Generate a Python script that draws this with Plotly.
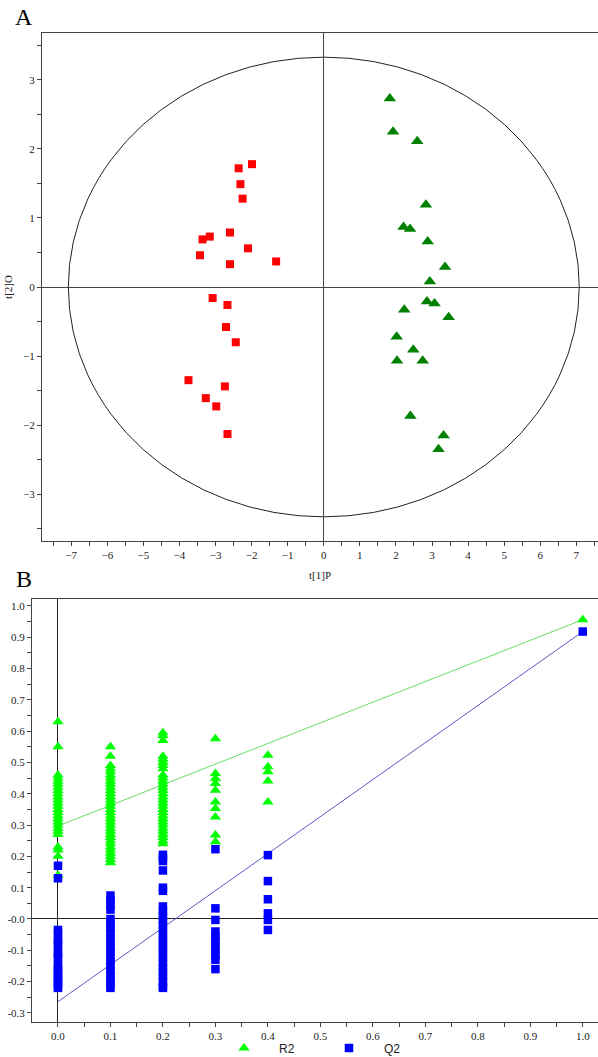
import plotly.graph_objects as go

# ---------------- Panel A: OPLS-DA score plot ----------------
group1_t1 = [-2.36, -1.99, -2.31, -2.25, -3.36, -3.16, -2.60, -2.10, -3.43, -2.60,
             -1.32, -3.08, -2.67, -2.71, -2.44, -3.75, -2.74, -3.27, -2.98, -2.67]
group1_t2 = [1.72, 1.78, 1.49, 1.28, 0.69, 0.73, 0.79, 0.56, 0.46, 0.33,
             0.37, -0.16, -0.26, -0.58, -0.80, -1.35, -1.44, -1.61, -1.73, -2.13]
group2_t1 = [1.83, 1.92, 2.59, 2.83, 2.21, 2.39, 2.88, 3.36, 2.94, 2.86,
             3.07, 2.23, 3.46, 2.02, 2.48, 2.03, 2.74, 2.40, 3.32, 3.18]
group2_t2 = [2.73, 2.25, 2.11, 1.19, 0.87, 0.84, 0.66, 0.29, 0.08, -0.21,
             -0.24, -0.33, -0.44, -0.72, -0.91, -1.07, -1.07, -1.87, -2.15, -2.35]
ellipse_rx = 7.08
ellipse_ry = 3.33
a_xticks = list(range(-7, 8))
a_yticks = [-3, -2, -1, 0, 1, 2, 3]

# ---------------- Panel B: permutation test ----------------
r2_x00 = [0.63, 0.55, 0.46, 0.45, 0.44, 0.43, 0.42, 0.41, 0.40, 0.39, 0.38, 0.37, 0.36,
          0.35, 0.34, 0.33, 0.32, 0.31, 0.30, 0.29, 0.28, 0.27, 0.23, 0.22, 0.20, 0.14]
r2_x01 = [0.55, 0.52, 0.49, 0.48, 0.47, 0.46, 0.45, 0.44, 0.43, 0.42, 0.41, 0.40, 0.39,
          0.38, 0.37, 0.36, 0.35, 0.34, 0.33, 0.32, 0.31, 0.30, 0.29, 0.28, 0.27, 0.26,
          0.25, 0.24, 0.23, 0.22, 0.21, 0.20, 0.19, 0.18]
r2_x02 = [0.595, 0.585, 0.57, 0.52, 0.51, 0.50, 0.49, 0.48, 0.46, 0.45, 0.44, 0.43, 0.42,
          0.41, 0.40, 0.39, 0.38, 0.37, 0.36, 0.35, 0.34, 0.33, 0.32, 0.31, 0.30, 0.29,
          0.28, 0.27, 0.26, 0.25, 0.24]
r2_x03 = [0.576, 0.465, 0.449, 0.433, 0.411, 0.374, 0.353, 0.326, 0.268, 0.247]
r2_x04 = [0.523, 0.486, 0.47, 0.441, 0.374]
r2_x10 = [0.956]

q2_x00 = [0.17, 0.13, -0.035, -0.045, -0.065, -0.075, -0.085, -0.105, -0.115, -0.125,
          -0.145, -0.155, -0.165, -0.175, -0.185, -0.195, -0.205, -0.215, -0.22]
q2_x01 = [0.075, 0.06, 0.045, 0.03, 0.0, -0.015, -0.03, -0.045, -0.06, -0.075, -0.09,
          -0.105, -0.12, -0.135, -0.15, -0.165, -0.18, -0.195, -0.21, -0.22]
q2_x02 = [0.205, 0.195, 0.185, 0.155, 0.10, 0.09, 0.04, 0.025, 0.01, -0.005, -0.02,
          -0.035, -0.05, -0.065, -0.08, -0.095, -0.11, -0.125, -0.14, -0.155, -0.17,
          -0.185, -0.2, -0.215, -0.22]
q2_x03 = [0.223, 0.034, -0.003, -0.04, -0.055, -0.07, -0.085, -0.10, -0.115, -0.13, -0.16]
q2_x04 = [0.204, 0.121, 0.063, 0.018, -0.003, -0.035]
q2_x10 = [0.918]

perm_levels = [0.0, 0.1, 0.2, 0.3, 0.4, 1.0]
r2_groups = [r2_x00, r2_x01, r2_x02, r2_x03, r2_x04, r2_x10]
q2_groups = [q2_x00, q2_x01, q2_x02, q2_x03, q2_x04, q2_x10]

r2_line_x = [0.0, 1.0]
r2_line_y = [0.297, 0.956]
q2_line_x = [0.0, 1.0]
q2_line_y = [-0.264, 0.918]

b_xticks = [0.0, 0.1, 0.2, 0.3, 0.4, 0.5, 0.6, 0.7, 0.8, 0.9, 1.0]
b_xticktext = ["0.0", "0.1", "0.2", "0.3", "0.4", "0.5", "0.6", "0.7", "0.8", "0.9", "1.0"]
b_yticks = [1.0, 0.9, 0.8, 0.7, 0.6, 0.5, 0.4, 0.3, 0.2, 0.1, 0.0, -0.1, -0.2, -0.3]
b_yticktext = ["1.0", "0.9", "0.8", "0.7", "0.6", "0.5", "0.4", "0.3", "0.2", "0.1",
               "-0.0", "-0.1", "-0.2", "-0.3"]

# ---------------- Build ----------------
W, H = 598, 1057
serif = "Liberation Serif, Times New Roman, serif"
sans = "Liberation Sans, Arial, sans-serif"
axcol = "#444444"

r2_x, r2_y, q2_x, q2_y = [], [], [], []
for lv, g in zip(perm_levels, r2_groups):
    r2_x += [lv] * len(g)
    r2_y += g
for lv, g in zip(perm_levels, q2_groups):
    q2_x += [lv] * len(g)
    q2_y += g

fig = go.Figure()

fig.add_trace(go.Scatter(x=group1_t1, y=group1_t2, mode="markers", showlegend=False,
                         marker=dict(symbol="square", size=8, color="#FF0000"),
                         xaxis="x", yaxis="y"))
fig.add_trace(go.Scatter(x=group2_t1, y=group2_t2, mode="markers", showlegend=False,
                         marker=dict(symbol="triangle-up", size=11, color="#008000"),
                         xaxis="x", yaxis="y"))

fig.add_trace(go.Scatter(x=r2_line_x, y=r2_line_y, mode="lines", showlegend=False,
                         line=dict(color="#66DD66", width=1), xaxis="x2", yaxis="y2"))
fig.add_trace(go.Scatter(x=q2_line_x, y=q2_line_y, mode="lines", showlegend=False,
                         line=dict(color="#5A5AC8", width=1), xaxis="x2", yaxis="y2"))
fig.add_trace(go.Scatter(x=r2_x, y=r2_y, mode="markers", name="R2",
                         marker=dict(symbol="triangle-up", size=10, color="#00FF00"),
                         xaxis="x2", yaxis="y2"))
fig.add_trace(go.Scatter(x=q2_x, y=q2_y, mode="markers", name="Q2",
                         marker=dict(symbol="square", size=8.5, color="#0000FF"),
                         xaxis="x2", yaxis="y2"))

# Hotelling ellipse
fig.add_shape(type="circle", xref="x", yref="y",
              x0=-ellipse_rx, x1=ellipse_rx, y0=-ellipse_ry, y1=ellipse_ry,
              line=dict(color="#222222", width=1), layer="below")

def px_x(p):
    return p / W

def px_y(p):
    return 1 - p / H

tickfont = dict(family=serif, size=11, color="#222222")

fig.update_layout(
    width=W, height=H,
    margin=dict(l=0, r=0, t=0, b=0, autoexpand=False),
    paper_bgcolor="white", plot_bgcolor="white",
    xaxis=dict(domain=[px_x(42), 1.0], range=[-7.81, 7.6], anchor="y", automargin=False,
               tickvals=a_xticks, ticks="outside", ticklen=4, tickcolor=axcol,
               minor=dict(dtick=0.5, tick0=0, ticks="outside", ticklen=4, tickcolor=axcol),
               showline=True, linecolor=axcol, linewidth=1, mirror=True,
               showgrid=False, zeroline=True, zerolinecolor=axcol, zerolinewidth=1,
               tickfont=tickfont,
               title=dict(text="t[1]P", font=dict(family=serif, size=11, color="#222222"),
                          standoff=11)),
    yaxis=dict(domain=[px_y(541), px_y(33)], range=[-3.68, 3.68], anchor="x", automargin=False,
               tickvals=a_yticks, ticks="outside", ticklen=4, tickcolor=axcol,
               minor=dict(dtick=0.5, tick0=0, ticks="outside", ticklen=4, tickcolor=axcol),
               showline=True, linecolor=axcol, linewidth=1,
               showgrid=False, zeroline=True, zerolinecolor=axcol, zerolinewidth=1,
               tickfont=tickfont,
               title=dict(text="t[2]O", font=dict(family=serif, size=11, color="#222222"),
                          standoff=8)),
    xaxis2=dict(domain=[px_x(32), 1.0], range=[-0.0495, 1.029], anchor="y2", automargin=False,
                tickvals=b_xticks, ticktext=b_xticktext, ticks="outside", ticklen=4,
                tickcolor=axcol,
                minor=dict(dtick=0.05, tick0=0, ticks="outside", ticklen=4, tickcolor=axcol),
                showline=True, linecolor=axcol, linewidth=1, mirror=True,
                showgrid=False, zeroline=True, zerolinecolor="#222222", zerolinewidth=1,
                tickfont=tickfont),
    yaxis2=dict(domain=[px_y(1022), px_y(599)], range=[-0.329, 1.022], anchor="x2",
                automargin=False,
                tickvals=b_yticks, ticktext=b_yticktext, ticks="outside", ticklen=4,
                tickcolor=axcol,
                minor=dict(dtick=0.05, tick0=0, ticks="outside", ticklen=4, tickcolor=axcol),
                showline=True, linecolor=axcol, linewidth=1,
                showgrid=False, zeroline=True, zerolinecolor="#222222", zerolinewidth=1,
                tickfont=tickfont),
    legend=dict(orientation="h", x=px_x(209), xanchor="left", y=px_y(1048), yanchor="middle",
                font=dict(family=sans, size=12, color="#222222"),
                itemwidth=60, entrywidth=30, entrywidthmode="pixels",
                bgcolor="rgba(0,0,0,0)"),
    annotations=[
        dict(text="A", x=px_x(13), y=px_y(2), xref="paper", yref="paper",
             xanchor="left", yanchor="top", showarrow=False,
             font=dict(family=serif, size=24, color="black")),
        dict(text="B", x=px_x(14), y=px_y(564), xref="paper", yref="paper",
             xanchor="left", yanchor="top", showarrow=False,
             font=dict(family=serif, size=24, color="black")),
    ],
)

fig.write_html("out.html", config={"displayModeBar": False},
               post_script="document.body.style.margin='0';")
